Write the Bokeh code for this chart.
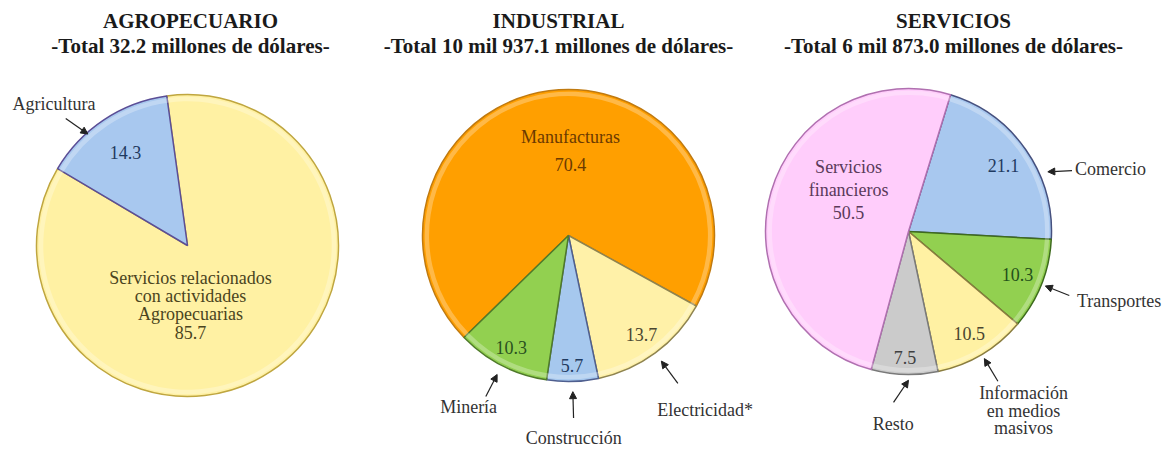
import numpy as np
from bokeh.plotting import figure
from bokeh.models import ColumnDataSource, Range1d, Arrow, NormalHead
from bokeh.core.properties import value
from bokeh.embed import file_html
from bokeh.resources import INLINE

# ---------------- data ----------------
titles = ["AGROPECUARIO", "INDUSTRIAL", "SERVICIOS"]
totals = ["-Total 32.2 millones de dólares-",
          "-Total 10 mil 937.1 millones de dólares-",
          "-Total 6 mil 873.0 millones de dólares-"]

agro_cats = ["Servicios relacionados con actividades Agropecuarias", "Agricultura"]
agro_vals = [85.7, 14.3]

ind_cats = ["Manufacturas", "Electricidad*", "Construcción", "Minería"]
ind_vals = [70.4, 13.7, 5.7, 10.3]

serv_cats = ["Comercio", "Transportes", "Información en medios masivos", "Resto", "Servicios financieros"]
serv_vals = [21.1, 10.3, 10.5, 7.5, 50.5]

# ---------------- styles / layout ----------------
W, H = 1170, 449
FONT = value("Liberation Serif")

agro_fill = ["#FFF1A3", "#A8C8EF"]
agro_line = ["#BFA640", "#5B4E96"]
ind_fill = ["#FF9F00", "#FFF1A8", "#A6C8EE", "#92D050"]
ind_line = ["#C07A10", "#8F8450", "#4F5F8F", "#4F7A2A"]
serv_fill = ["#A8C8EF", "#92D050", "#FFF1A3", "#CBCBCB", "#FFCDFB"]
serv_line = ["#46517F", "#3E6B1E", "#8A7D40", "#7A7A7A", "#B070B0"]

# pie layout: centre (x, y), radius, start angle (deg, clockwise)
pies = [
    dict(cats=agro_cats, vals=agro_vals, fill=agro_fill, line=agro_line,
         cx=187, cy=204, r=151, start=97.9),
    dict(cats=ind_cats, vals=ind_vals, fill=ind_fill, line=ind_line,
         cx=568, cy=214, r=146, start=224.3),
    dict(cats=serv_cats, vals=serv_vals, fill=serv_fill, line=serv_line,
         cx=908, cy=218, r=143, start=72.9),
]

# inside labels: (lines, polar angle override or None, radius fraction, line spacing, colour)
inside = [
    [(["Servicios relacionados", "con actividades", "Agropecuarias", "{v}"], -87.1, 0.395, 18.3, "#4A4420"),
     (["{v}"], None, 0.74, 0, "#1F3A60")],
    [(["Manufacturas", "{v}"], 88.6, 0.58, 27, "#6B3A00"),
     (["{v}"], None, 0.84, 0, "#4A4630"),
     (["{v}"], None, 0.89, 0, "#1F3A60"),
     (["{v}"], None, 0.86, 0, "#2A5020")],
    [(["{v}"], None, 0.81, 0, "#1F3A60"),
     (["{v}"], None, 0.82, 0, "#24501A"),
     (["{v}"], None, 0.83, 0, "#4A4630"),
     (["{v}"], None, 0.88, 0, "#404040"),
     (["Servicios", "financieros", "{v}"], 145.2, 0.51, 22.5, "#5A3A5A")],
]

# outside labels: slice index, lines, label angle, label radius frac,
# arrow head angle (None=mid), arrow tail angle (None=head), tail frac, head frac
outside = [
    [(1, ["Agricultura"], 133.3, 1.29, 131.8, 133.8, 1.165, 0.99)],
    [(3, ["Minería"], 239.8, 1.36, None, None, 1.24, 1.07),
     (2, ["Construcción"], 271.5, 1.39, None, None, 1.25, 1.07),
     (1, ["Electricidad*"], 308.0, 1.52, None, None, 1.26, 1.07)],
    [(0, ["Comercio"], 17.3, 1.48, 23.2, 20.4, 1.22, 1.06),
     (1, ["Transportes"], -18.2, 1.55, None, None, 1.21, 1.03),
     (2, ["Información", "en medios", "masivos"], -57.3, 1.49, None, None, 1.22, 1.035),
     (3, ["Resto"], -94.5, 1.35, -90.0, -95.0, 1.20, 1.04)],
]
title_x = [190, 558, 953]

p = figure(width=W, height=H, x_range=Range1d(0, W), y_range=Range1d(0, H),
           x_axis_type=None, y_axis_type=None, toolbar_location=None,
           output_backend="svg", min_border=0)
p.outline_line_color = None
p.grid.visible = False
p.background_fill_color = "white"

txt = dict(x=[], y=[], text=[], color=[])
arr = dict(x0=[], y0=[], x1=[], y1=[])


def add_lines(x, y, lines, spacing, color):
    n = len(lines)
    for i, t in enumerate(lines):
        txt["x"].append(x)
        txt["y"].append(y + ((n - 1) / 2 - i) * spacing)
        txt["text"].append(t)
        txt["color"].append(color)


for k, pie in enumerate(pies):
    vals = np.asarray(pie["vals"], float)
    frac = vals / vals.sum()
    cum = np.concatenate([[0.0], np.cumsum(frac)])
    s = np.deg2rad(pie["start"])
    a_hi = s - cum[:-1] * 2 * np.pi
    a_lo = s - cum[1:] * 2 * np.pi
    mid = (a_hi + a_lo) / 2
    n = len(vals)
    cx, cy, r = pie["cx"], pie["cy"], pie["r"]
    src = ColumnDataSource(dict(x=[cx] * n, y=[cy] * n, r=[r] * n,
                                start=list(a_lo), end=list(a_hi),
                                fill=pie["fill"], line=pie["line"],
                                cat=pie["cats"], val=list(vals)))
    p.wedge(x="x", y="y", radius="r", start_angle="start", end_angle="end",
            fill_color="fill", line_color="line", line_width=1.5, source=src)
    # bevel highlight near the rim
    p.annular_wedge(x="x", y="y", inner_radius=r * 0.955, outer_radius=r * 0.985,
                    start_angle="start", end_angle="end", fill_color="white",
                    fill_alpha=0.28, line_color=None, source=src)

    for i, (lines, ang, rf, sp, col) in enumerate(inside[k]):
        a = mid[i] if ang is None else np.deg2rad(ang)
        lines = [t.replace("{v}", f"{vals[i]:.1f}") for t in lines]
        add_lines(cx + rf * r * np.cos(a), cy + rf * r * np.sin(a), lines, sp if sp else 18, col)

    for (i, lines, lang, lrf, hang, tang, af, at) in outside[k]:
        a = np.deg2rad(lang)
        add_lines(cx + lrf * r * np.cos(a), cy + lrf * r * np.sin(a), lines, 17.5, "#333333")
        bh = mid[i] if hang is None else np.deg2rad(hang)
        bt = bh if tang is None else np.deg2rad(tang)
        arr["x0"].append(cx + af * r * np.cos(bt))
        arr["y0"].append(cy + af * r * np.sin(bt))
        arr["x1"].append(cx + at * r * np.cos(bh))
        arr["y1"].append(cy + at * r * np.sin(bh))

    # titles
    p.text(x=[title_x[k]], y=[429], text=[titles[k]], text_font=FONT,
           text_font_size="21px", text_font_style="bold", text_align="center",
           text_baseline="middle", text_color="#1A1A1A")
    p.text(x=[title_x[k]], y=[404], text=[totals[k]], text_font=FONT,
           text_font_size="21px", text_font_style="bold", text_align="center",
           text_baseline="middle", text_color="#1A1A1A")

p.text(x="x", y="y", text="text", text_color="color", source=ColumnDataSource(txt),
       text_font=FONT, text_font_size="18px", text_align="center", text_baseline="middle")

p.add_layout(Arrow(end=NormalHead(size=7, fill_color="#222222", line_color="#222222"),
                   x_start="x0", y_start="y0", x_end="x1", y_end="y1",
                   line_color="#222222", line_width=1.2, source=ColumnDataSource(arr)))

open("out.html", "w").write(file_html(p, INLINE))
